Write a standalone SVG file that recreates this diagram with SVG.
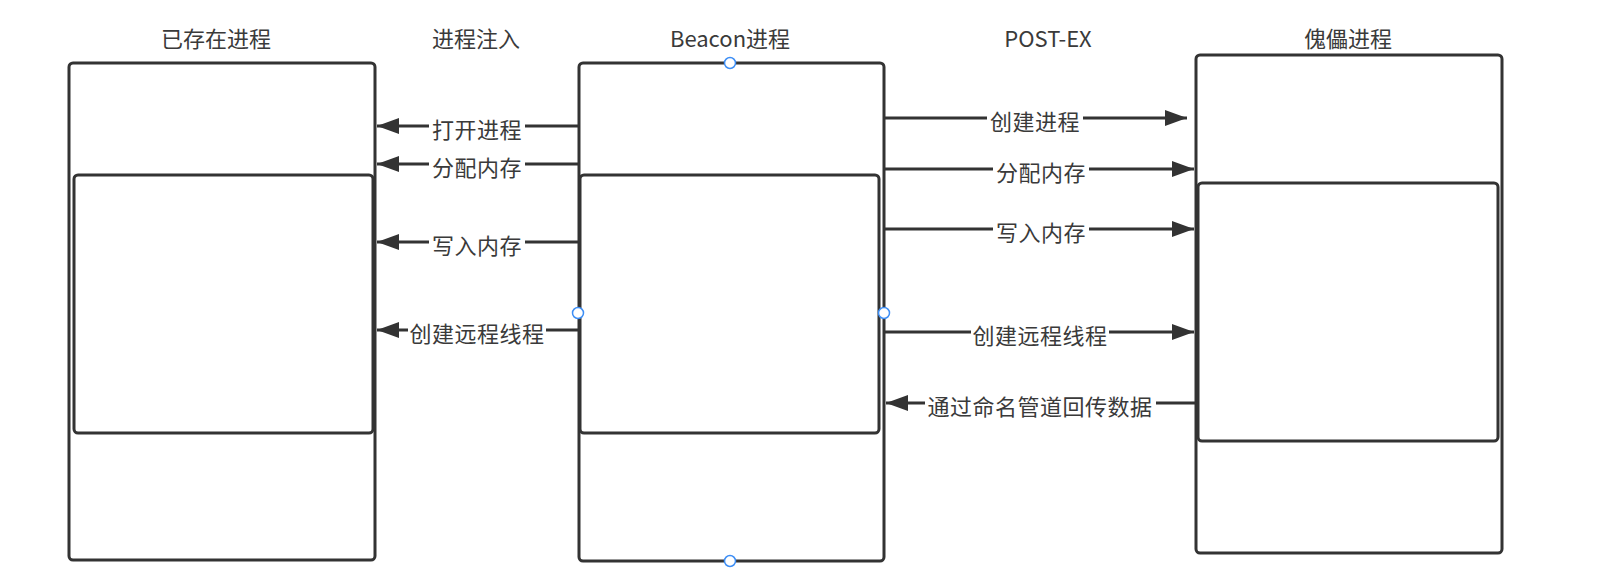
<svg xmlns="http://www.w3.org/2000/svg" width="1601" height="584" viewBox="0 0 1601 584">
<style>
.box{fill:#fff;stroke:#333;stroke-width:3}
.title{font-family:"Noto Sans CJK SC","Liberation Sans",sans-serif;font-size:22px;fill:#3a3a3a;text-anchor:middle;dominant-baseline:central}
.lbl{font-family:"Noto Sans CJK SC","Liberation Sans",sans-serif;font-size:22px;letter-spacing:0.5px;fill:#3a3a3a;text-anchor:middle;dominant-baseline:central}
.edge{stroke:#333;stroke-width:3;fill:none}
.bg{fill:#fff}
.port{fill:#fff;stroke:#3d8ef5;stroke-width:1.5}
</style>
<defs>
<marker id="arr" markerUnits="userSpaceOnUse" markerWidth="24" markerHeight="16" refX="22" refY="8" orient="auto">
<path d="M0,0 L22,8 L0,16 Z" fill="#333"/>
</marker>
</defs>
<rect width="1601" height="584" fill="#fff"/>
<g id="titles">
<text class="title" x="216" y="37">已存在进程</text>
<text class="title" x="476" y="37">进程注入</text>
<text class="title" x="730" y="37">Beacon进程</text>
<text class="title" x="1048" y="37">POST-EX</text>
<text class="title" x="1348" y="37">傀儡进程</text>
</g>
<g id="node-existing">
<rect class="box" x="69" y="63" width="306" height="497" rx="4"/>
<rect class="box" x="74" y="175" width="299" height="258" rx="4"/>
</g>
<g id="node-beacon">
<rect class="box" x="579" y="63" width="305" height="498" rx="4"/>
<rect class="box" x="580" y="175" width="299" height="258" rx="4"/>
</g>
<g id="node-puppet">
<rect class="box" x="1196" y="55" width="306" height="498" rx="4"/>
<rect class="box" x="1198" y="183" width="300" height="258" rx="4"/>
</g>
<g id="connectors">
<line class="edge" x1="578" y1="126" x2="377" y2="126" marker-end="url(#arr)"/>
<line class="edge" x1="578" y1="164" x2="377" y2="164" marker-end="url(#arr)"/>
<line class="edge" x1="578" y1="242" x2="377" y2="242" marker-end="url(#arr)"/>
<line class="edge" x1="578" y1="330" x2="377" y2="330" marker-end="url(#arr)"/>
<line class="edge" x1="885" y1="118" x2="1187" y2="118" marker-end="url(#arr)"/>
<line class="edge" x1="885" y1="169" x2="1194" y2="169" marker-end="url(#arr)"/>
<line class="edge" x1="885" y1="229" x2="1194" y2="229" marker-end="url(#arr)"/>
<line class="edge" x1="885" y1="332" x2="1194" y2="332" marker-end="url(#arr)"/>
<line class="edge" x1="1196" y1="403" x2="886" y2="403" marker-end="url(#arr)"/>
<rect class="bg" x="429" y="114" width="96" height="26"/>
<text class="lbl" x="477" y="127.5">打开进程</text>
<rect class="bg" x="429" y="152" width="96" height="26"/>
<text class="lbl" x="477" y="165.5">分配内存</text>
<rect class="bg" x="429" y="230" width="96" height="26"/>
<text class="lbl" x="477" y="243.5">写入内存</text>
<rect class="bg" x="408" y="318" width="138" height="26"/>
<text class="lbl" x="477" y="331.5">创建远程线程</text>
<rect class="bg" x="987" y="106" width="96" height="26"/>
<text class="lbl" x="1035" y="119.5">创建进程</text>
<rect class="bg" x="993" y="157" width="96" height="26"/>
<text class="lbl" x="1041" y="170.5">分配内存</text>
<rect class="bg" x="993" y="217" width="96" height="26"/>
<text class="lbl" x="1041" y="230.5">写入内存</text>
<rect class="bg" x="971" y="320" width="138" height="26"/>
<text class="lbl" x="1040" y="333.5">创建远程线程</text>
<rect class="bg" x="925" y="391" width="231" height="26"/>
<text class="lbl" x="1040" y="404.5">通过命名管道回传数据</text>
</g>
<g id="ports">
<circle class="port" cx="730" cy="63" r="5.5"/>
<circle class="port" cx="730" cy="561" r="5.5"/>
<circle class="port" cx="578" cy="313" r="5.5"/>
<circle class="port" cx="884" cy="313" r="5.5"/>
</g>
</svg>
